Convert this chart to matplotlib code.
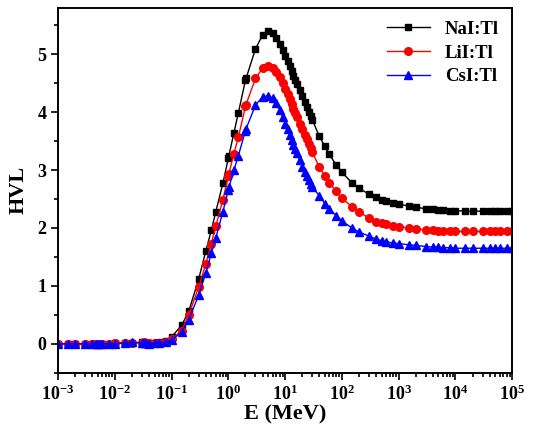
import matplotlib
matplotlib.use("Agg")
import matplotlib.pyplot as plt
from matplotlib.ticker import LogLocator, MultipleLocator, NullFormatter, FixedLocator

plt.rcParams['font.family'] = ['Liberation Serif', 'DejaVu Serif']
plt.rcParams['font.weight'] = 'bold'
plt.rcParams['mathtext.fontset'] = 'custom'
plt.rcParams['mathtext.rm'] = 'Liberation Serif:bold'
plt.rcParams['mathtext.it'] = 'Liberation Serif:bold'
plt.rcParams['mathtext.bf'] = 'Liberation Serif:bold'

# Photon energies (MeV)
energy = [0.001, 0.0015, 0.002, 0.003, 0.004, 0.0046, 0.005, 0.0055, 0.006, 0.008,
          0.01, 0.015, 0.02, 0.03, 0.033, 0.036, 0.04, 0.05, 0.06, 0.08,
          0.1, 0.15, 0.2, 0.3, 0.4, 0.5, 0.6, 0.8, 1.0, 1.022, 1.25, 1.5, 2.0, 2.044,
          3.0, 4.0, 5.0, 6.0, 7.0, 8.0, 9.0, 10.0, 11.0, 12.0, 13.0, 14.0, 15.0, 16.0,
          18.0, 20.0, 22.0, 24.0, 26.0, 28.0, 30.0, 40.0, 50.0, 60.0, 80.0,
          100.0, 150.0, 200.0, 300.0, 400.0, 500.0, 600.0, 800.0,
          1000.0, 1500.0, 2000.0, 3000.0, 4000.0, 5000.0, 6000.0, 8000.0,
          10000.0, 15000.0, 20000.0, 30000.0, 40000.0, 50000.0, 60000.0, 80000.0, 100000.0]

hvl_nai = [0.0001, 0.0002, 0.0004, 0.001, 0.002, 0.003, 0.001, 0.0015, 0.002, 0.004,
           0.007, 0.02, 0.01, 0.027, 0.03, 0.006, 0.009, 0.015, 0.025, 0.055,
           0.12, 0.32, 0.56, 1.12, 1.60, 1.96, 2.28, 2.77, 3.21, 3.25, 3.64, 3.99, 4.55, 4.58,
           5.09, 5.33, 5.40, 5.36, 5.28, 5.18, 5.07, 4.97, 4.88, 4.79, 4.71, 4.63, 4.56, 4.49,
           4.38, 4.28, 4.18, 4.09, 4.01, 3.94, 3.87, 3.58, 3.41, 3.27, 3.08,
           2.96, 2.78, 2.69, 2.58, 2.53, 2.49, 2.46, 2.43,
           2.41, 2.38, 2.36, 2.33, 2.32, 2.31, 2.31, 2.30,
           2.30, 2.29, 2.29, 2.29, 2.29, 2.29, 2.29, 2.29, 2.29]

hvl_lii = [0.0001, 0.0002, 0.0003, 0.0008, 0.0015, 0.002, 0.001, 0.0012, 0.0016, 0.003,
           0.006, 0.017, 0.008, 0.022, 0.025, 0.005, 0.007, 0.012, 0.02, 0.04,
           0.08, 0.23, 0.50, 0.98, 1.38, 1.73, 2.03, 2.49, 2.90, 2.94, 3.28, 3.57, 4.10, 4.13,
           4.58, 4.76, 4.79, 4.76, 4.69, 4.60, 4.50, 4.40, 4.31, 4.22, 4.14, 4.06, 3.99, 3.92,
           3.80, 3.70, 3.61, 3.53, 3.45, 3.38, 3.31, 3.05, 2.90, 2.78, 2.63,
           2.51, 2.37, 2.28, 2.17, 2.11, 2.08, 2.06, 2.03,
           2.02, 2.00, 1.98, 1.97, 1.96, 1.95, 1.95, 1.95,
           1.94, 1.94, 1.94, 1.94, 1.94, 1.94, 1.94, 1.94, 1.94]

hvl_csi = [0.0001, 0.0002, 0.0003, 0.0007, 0.0012, 0.0018, 0.0008, 0.001, 0.0012, 0.0025,
           0.005, 0.014, 0.03, 0.018, 0.02, 0.006, 0.004, 0.009, 0.015, 0.035,
           0.07, 0.20, 0.42, 0.84, 1.22, 1.56, 1.83, 2.28, 2.66, 2.70, 3.00, 3.25, 3.68, 3.71,
           4.12, 4.26, 4.28, 4.24, 4.15, 4.04, 3.92, 3.80, 3.70, 3.60, 3.51, 3.43, 3.36, 3.29,
           3.17, 3.06, 2.97, 2.89, 2.82, 2.76, 2.70, 2.56, 2.42, 2.33, 2.21,
           2.12, 2.00, 1.93, 1.86, 1.81, 1.78, 1.76, 1.74,
           1.73, 1.71, 1.70, 1.68, 1.67, 1.67, 1.66, 1.66,
           1.65, 1.65, 1.65, 1.65, 1.65, 1.65, 1.65, 1.65, 1.65]

labels = ['NaI:Tl', 'LiI:Tl', 'CsI:Tl']
colors = ['black', 'red', 'blue']
markers = ['s', 'o', '^']
msizes = [5.0, 5.5, 5.5]
x_ticks = [1e-3, 1e-2, 1e-1, 1e0, 1e1, 1e2, 1e3, 1e4, 1e5]
x_ticklabels = ['$10^{-3}$', '$10^{-2}$', '$10^{-1}$', '$10^{0}$', '$10^{1}$',
                '$10^{2}$', '$10^{3}$', '$10^{4}$', '$10^{5}$']

fig = plt.figure(figsize=(5.33, 4.33), dpi=100)
ax = fig.add_axes([0.109, 0.139, 0.852, 0.843])

for y, lab, c, m, ms in zip([hvl_nai, hvl_lii, hvl_csi], labels, colors, markers, msizes):
    ax.plot(energy, y, color=c, marker=m, markersize=ms, linewidth=1.0,
            markeredgecolor=c, markerfacecolor=c, label=lab)

ax.set_xscale('log')
ax.set_xlim(1e-3, 1e5)
ax.set_ylim(-0.5, 5.8)
ax.xaxis.set_major_locator(FixedLocator(x_ticks))
ax.set_xticklabels(x_ticklabels)
minor = [m * 10.0 ** e for e in range(-3, 5) for m in range(2, 10)]
ax.xaxis.set_minor_locator(FixedLocator(minor))
ax.xaxis.set_minor_formatter(NullFormatter())
ax.yaxis.set_major_locator(MultipleLocator(1))
ax.yaxis.set_minor_locator(MultipleLocator(0.5))

ax.tick_params(which='both', direction='out', top=False, right=False, width=1.2)
ax.tick_params(which='major', length=5, labelsize=13)
ax.tick_params(which='minor', length=3)
for sp in ax.spines.values():
    sp.set_linewidth(1.4)

for lbl in ax.get_xticklabels() + ax.get_yticklabels():
    lbl.set_fontweight('bold')

ax.set_xlabel('E (MeV)', fontsize=16, fontweight='bold', labelpad=0)
ax.set_ylabel('HVL', fontsize=16, fontweight='bold', labelpad=6)

leg = ax.legend(loc='upper right', frameon=False,
                prop={'weight': 'bold', 'size': 13.5}, handlelength=2.3,
                borderaxespad=0.3, labelspacing=0.35)

fig.savefig('out.png', dpi=100)
